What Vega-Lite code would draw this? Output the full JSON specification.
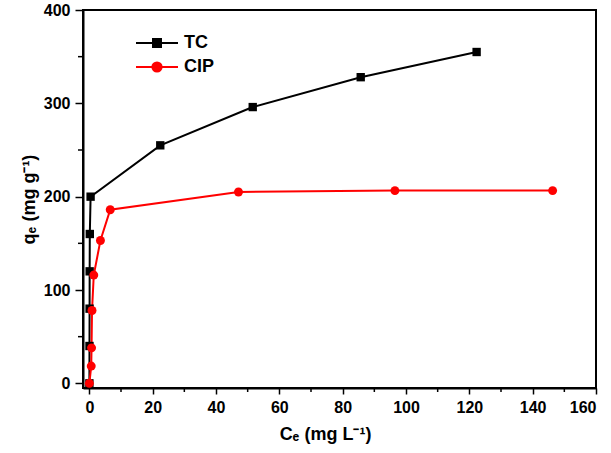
{
  "$schema": "https://vega.github.io/schema/vega-lite/v6.json",
  "width": 513,
  "height": 378,
  "autosize": "none",
  "padding": {"left": 83, "top": 10, "right": 15, "bottom": 65},
  "background": "white",
  "config": {
    "view": {"stroke": "black", "strokeWidth": 2},
    "font": "Liberation Sans",
    "axis": {
      "grid": false,
      "domainColor": "black",
      "domainWidth": 2,
      "tickColor": "black",
      "tickWidth": 1.5,
      "labelFont": "Liberation Sans",
      "labelFontWeight": "bold",
      "labelFontSize": 16,
      "labelColor": "black",
      "titleFont": "Liberation Sans",
      "titleFontWeight": "bold",
      "titleFontSize": 18,
      "titleColor": "black"
    }
  },
  "data": {
    "values": [
      {"series": "TC", "i": 0, "ce": 0.02, "qe": 0},
      {"series": "TC", "i": 1, "ce": 0.05, "qe": 40},
      {"series": "TC", "i": 2, "ce": 0.08, "qe": 80},
      {"series": "TC", "i": 3, "ce": 0.1, "qe": 120},
      {"series": "TC", "i": 4, "ce": 0.15, "qe": 160},
      {"series": "TC", "i": 5, "ce": 0.4, "qe": 200},
      {"series": "TC", "i": 6, "ce": 22.4, "qe": 255},
      {"series": "TC", "i": 7, "ce": 51.6, "qe": 296},
      {"series": "TC", "i": 8, "ce": 85.7, "qe": 328},
      {"series": "TC", "i": 9, "ce": 122.3, "qe": 355},
      {"series": "CIP", "i": 0, "ce": 0.0, "qe": 0},
      {"series": "CIP", "i": 1, "ce": 0.6, "qe": 18.5},
      {"series": "CIP", "i": 2, "ce": 0.7, "qe": 38},
      {"series": "CIP", "i": 3, "ce": 0.85, "qe": 78},
      {"series": "CIP", "i": 4, "ce": 1.4, "qe": 116},
      {"series": "CIP", "i": 5, "ce": 3.5, "qe": 153},
      {"series": "CIP", "i": 6, "ce": 6.6, "qe": 186},
      {"series": "CIP", "i": 7, "ce": 47.1, "qe": 205},
      {"series": "CIP", "i": 8, "ce": 96.5, "qe": 206.5},
      {"series": "CIP", "i": 9, "ce": 146.3, "qe": 206.5}
    ]
  },
  "encoding": {
    "x": {
      "field": "ce", "type": "quantitative",
      "scale": {"domain": [-2, 160], "nice": false, "zero": false},
      "axis": {
        "title": "Cₑ (mg L⁻¹)",
        "titleX": 242,
        "values": [0, 20, 40, 60, 80, 100, 120, 140, 160],
        "tickSize": 6, "labelPadding": 5, "titlePadding": 10
      }
    },
    "y": {
      "field": "qe", "type": "quantitative",
      "scale": {"domain": [-5, 400], "nice": false, "zero": false},
      "axis": {
        "title": "qₑ (mg g⁻¹)",
        "values": [0, 100, 200, 300, 400],
        "tickSize": 8, "labelPadding": 5, "titlePadding": 5
      }
    }
  },
  "layer": [
    {
      "mark": {"type": "rule", "color": "black", "strokeWidth": 1.5},
      "data": {"values": [{"t": 10}, {"t": 30}, {"t": 50}, {"t": 70}, {"t": 90}, {"t": 110}, {"t": 130}, {"t": 150}]},
      "encoding": {
        "x": {"field": "t", "type": "quantitative"},
        "y": {"value": 378},
        "y2": {"value": 382}
      }
    },
    {
      "mark": {"type": "rule", "color": "black", "strokeWidth": 1.5},
      "data": {"values": [{"t": 50}, {"t": 150}, {"t": 250}, {"t": 350}]},
      "encoding": {
        "y": {"field": "t", "type": "quantitative"},
        "x": {"value": 0},
        "x2": {"value": -5}
      }
    },
    {
      "mark": {"type": "line", "strokeWidth": 2},
      "encoding": {
        "order": {"field": "i", "type": "quantitative"},
        "color": {
          "field": "series", "type": "nominal",
          "scale": {"domain": ["TC", "CIP"], "range": ["black", "#ff0000"]},
          "legend": {
            "orient": "none",
            "legendX": 52,
            "legendY": 21,
            "title": null,
            "padding": 0,
            "symbolSize": 1764,
            "symbolStrokeWidth": 2,
            "clipHeight": 24,
            "labelFont": "Liberation Sans",
            "labelFontWeight": "bold",
            "labelFontSize": 18,
            "labelColor": "black",
            "labelOffset": 5,
            "rowPadding": 0,
            "encode": {
              "symbols": {
                "update": {
                  "shape": {"signal": "datum.value === 'TC' ? 'M-1,0L1,0M-0.19,-0.19L0.19,-0.19L0.19,0.19L-0.19,0.19Z' : 'M-1,0L1,0M0.22,0A0.22,0.22 0 1 1 -0.22,0A0.22,0.22 0 1 1 0.22,0Z'"},
                  "fill": {"signal": "datum.value === 'TC' ? 'black' : '#ff0000'"},
                  "stroke": {"signal": "datum.value === 'TC' ? 'black' : '#ff0000'"},
                  "opacity": {"value": 1},
                  "fillOpacity": {"value": 1},
                  "strokeWidth": {"value": 2}
                }
              }
            }
          }
        },
        "detail": {"field": "series"}
      }
    },
    {
      "transform": [{"filter": "datum.series === 'TC'"}],
      "mark": {"type": "point", "filled": true, "opacity": 1, "size": 70, "shape": "square", "color": "black"}
    },
    {
      "transform": [{"filter": "datum.series === 'CIP'"}],
      "mark": {"type": "point", "filled": true, "opacity": 1, "size": 80, "shape": "circle", "color": "#ff0000"}
    }
  ]
}
